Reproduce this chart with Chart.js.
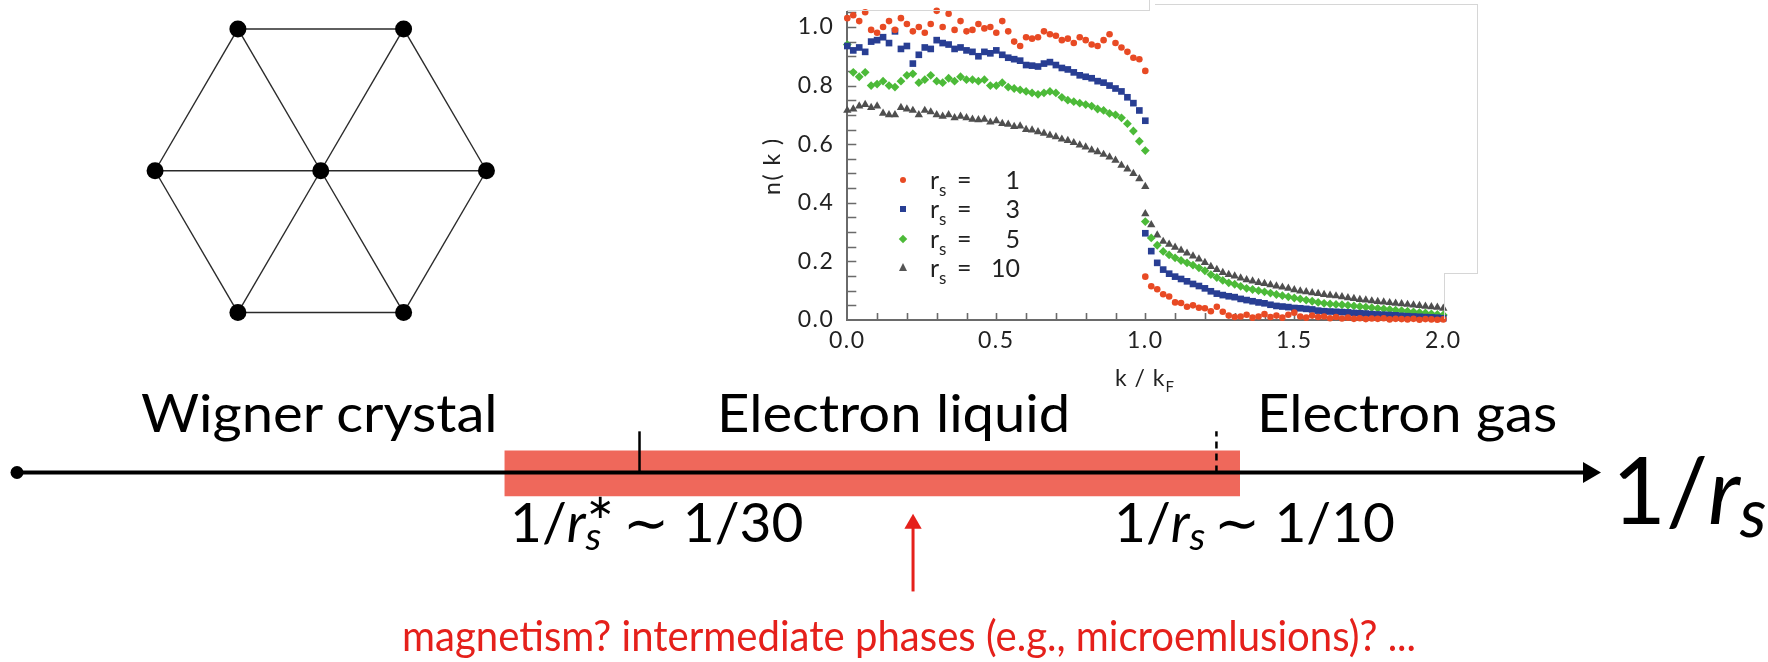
<!DOCTYPE html>
<html>
<head>
<meta charset="utf-8">
<script src="https://cdn.jsdelivr.net/npm/chart.js"></script>
<style>
  body { margin: 0; background: #fff; }
  #page { position: relative; width: 1768px; height: 662px; overflow: hidden; background: #fff; font-family: Lato, "Open Sans", sans-serif; }
  canvas { position: absolute; }
  .txt { position: absolute; white-space: nowrap; line-height: 1; color: #000; transform-origin: 0 0; }
  .wide { transform: scaleX(1.08); }
  .frame { position: absolute; background: #d6d6d6; }
  .leg { position: absolute; font-size: 25px; line-height: 1; color: #222; white-space: nowrap; }
  .leg sub { font-size: 17px; vertical-align: -7px; }
  .sx { position: relative; display: inline-block; width: 0.42em; height: 0.8em; }
  .sx.nosup { width: 0.45em; }
  .sp { position: absolute; left: 0.02em; top: -0.28em; font-size: 0.62em; }
  .sb { position: absolute; left: 0; top: 0.42em; font-size: 0.72em; font-style: italic; }
</style>
</head>
<body>
<div id="page">
  <canvas id="lattice" width="442" height="342" style="left:100px; top:0px; width:442px; height:342px"></canvas>
  <canvas id="nk" width="740" height="400" style="left:740px; top:0px; width:740px; height:400px"></canvas>
  <canvas id="phase" width="1768" height="282" style="left:0px; top:380px; width:1768px; height:282px"></canvas>

  <!-- edges of the pasted plot image -->
  <div class="frame" style="left:847px; top:10px; width:302px; height:1px"></div>
  <div class="frame" style="left:1149px; top:0px; width:1px; height:11px"></div>
  <div class="frame" style="left:1155px; top:4px; width:322px; height:1px"></div>
  <div class="frame" style="left:1477px; top:4px; width:1px; height:269px"></div>
  <div class="frame" style="left:1444px; top:273px; width:34px; height:1px"></div>
  <div class="frame" style="left:1444px; top:273px; width:1px; height:46px"></div>

  <div class="txt" style="left:1080px; top:366px; width:130px; text-align:center; font-size:23px; letter-spacing:1px; color:#222">k / k<sub style="font-size:15px">F</sub></div>

  <div class="leg" style="left:930px; top:167px">r<sub>s</sub></div>
  <div class="leg" style="left:957px; top:167px">=</div>
  <div class="leg" style="left:980px; top:167px; width:40px; text-align:right">1</div>
  <div class="leg" style="left:930px; top:196px">r<sub>s</sub></div>
  <div class="leg" style="left:957px; top:196px">=</div>
  <div class="leg" style="left:980px; top:196px; width:40px; text-align:right">3</div>
  <div class="leg" style="left:930px; top:226px">r<sub>s</sub></div>
  <div class="leg" style="left:957px; top:226px">=</div>
  <div class="leg" style="left:980px; top:226px; width:40px; text-align:right">5</div>
  <div class="leg" style="left:930px; top:255px">r<sub>s</sub></div>
  <div class="leg" style="left:957px; top:255px">=</div>
  <div class="leg" style="left:980px; top:255px; width:40px; text-align:right">10</div>
  <div style="position:absolute; left:900px; top:177px; width:6px; height:6px; border-radius:50%; background:#e84a24"></div>
  <div style="position:absolute; left:900px; top:206px; width:6px; height:6px; background:#283e93"></div>
  <div style="position:absolute; left:900px; top:236px; width:6px; height:6px; background:#4cba38; transform:rotate(45deg)"></div>
  <div style="position:absolute; left:899px; top:263px; width:0; height:0; border-left:4px solid transparent; border-right:4px solid transparent; border-bottom:8px solid #555"></div>

  <div class="txt wide" style="left:141px; top:386px; font-size:52px">Wigner crystal</div>
  <div class="txt wide" style="left:717px; top:386px; font-size:52px">Electron liquid</div>
  <div class="txt wide" style="left:1257px; top:386px; font-size:52px">Electron gas</div>

  <div class="txt" style="left:510px; top:494px; font-size:55px">1/<i>r</i><span class="sx"><span class="sp">∗</span><span class="sb">s</span></span> ∼ 1/30</div>
  <div class="txt" style="left:1114px; top:494px; font-size:55px">1/<i>r</i><span class="sx nosup"><span class="sb">s</span></span>∼ 1/10</div>
  <div class="txt" style="left:1612px; top:442px; font-size:93px">1/<i>r</i><span class="sx"><span class="sb">s</span></span></div>

  <div class="txt" style="left:402px; top:614px; font-size:42px; transform:scaleX(0.955); color:#e5201b">magnetism? intermediate phases (e.g., microemlusions)? ...</div>
</div>

<script>
  // n(k) momentum distribution, k in units of k_F
  var kBelow = [0.00, 0.02, 0.04, 0.06, 0.08, 0.10, 0.12, 0.14, 0.16, 0.18, 0.20, 0.22, 0.24, 0.26, 0.28, 0.30, 0.32, 0.34, 0.36, 0.38, 0.40, 0.42, 0.44, 0.46, 0.48, 0.50, 0.52, 0.54, 0.56, 0.58, 0.60, 0.62, 0.64, 0.66, 0.68, 0.70, 0.72, 0.74, 0.76, 0.78, 0.80, 0.82, 0.84, 0.86, 0.88, 0.90, 0.92, 0.94, 0.96, 0.98, 1.00];
  var kAbove = [1.00, 1.02, 1.04, 1.06, 1.08, 1.10, 1.12, 1.14, 1.16, 1.18, 1.20, 1.22, 1.24, 1.26, 1.28, 1.30, 1.32, 1.34, 1.36, 1.38, 1.40, 1.42, 1.44, 1.46, 1.48, 1.50, 1.52, 1.54, 1.56, 1.58, 1.60, 1.62, 1.64, 1.66, 1.68, 1.70, 1.72, 1.74, 1.76, 1.78, 1.80, 1.82, 1.84, 1.86, 1.88, 1.90, 1.92, 1.94, 1.96, 1.98, 2.00];

  var rs1Below = [1.03, 1.04, 1.02, 1.05, 0.99, 0.98, 1.00, 1.02, 0.99, 1.03, 1.01, 0.985, 1.00, 0.98, 1.01, 1.055, 1.00, 1.045, 0.99, 1.02, 0.985, 0.99, 1.01, 0.995, 1.00, 0.98, 1.02, 0.985, 0.95, 0.935, 0.965, 0.96, 0.965, 0.985, 0.975, 0.97, 0.955, 0.96, 0.945, 0.965, 0.955, 0.94, 0.935, 0.955, 0.975, 0.945, 0.93, 0.915, 0.895, 0.89, 0.85];
  var rs1Above = [0.148, 0.115, 0.105, 0.088, 0.080, 0.060, 0.058, 0.045, 0.050, 0.042, 0.040, 0.030, 0.045, 0.028, 0.015, 0.010, 0.012, 0.018, 0.008, 0.012, 0.020, 0.010, 0.015, 0.008, 0.018, 0.025, 0.012, 0.008, 0.015, 0.010, 0.012, 0.006, 0.010, 0.005, 0.008, 0.004, 0.006, 0.003, 0.005, 0.004, 0.006, 0.002, 0.004, 0.003, 0.002, 0.004, 0.001, 0.003, 0.002, 0.001, 0.002];

  var rs3Below = [0.935, 0.92, 0.93, 0.915, 0.95, 0.955, 0.965, 0.945, 0.985, 0.925, 0.935, 0.875, 0.905, 0.93, 0.925, 0.955, 0.945, 0.94, 0.925, 0.93, 0.92, 0.915, 0.90, 0.915, 0.91, 0.92, 0.905, 0.895, 0.89, 0.885, 0.87, 0.868, 0.865, 0.875, 0.88, 0.87, 0.86, 0.855, 0.845, 0.835, 0.83, 0.825, 0.815, 0.81, 0.80, 0.79, 0.78, 0.76, 0.74, 0.715, 0.68];
  var rs3Above = [0.296, 0.235, 0.195, 0.172, 0.158, 0.148, 0.140, 0.132, 0.123, 0.116, 0.108, 0.098, 0.090, 0.085, 0.081, 0.078, 0.072, 0.068, 0.064, 0.060, 0.057, 0.052, 0.048, 0.046, 0.044, 0.041, 0.040, 0.038, 0.036, 0.032, 0.030, 0.029, 0.028, 0.027, 0.026, 0.024, 0.023, 0.022, 0.020, 0.019, 0.018, 0.017, 0.016, 0.014, 0.013, 0.012, 0.011, 0.010, 0.009, 0.008, 0.006];

  var rs5Below = [0.94, 0.845, 0.83, 0.845, 0.80, 0.805, 0.815, 0.80, 0.795, 0.815, 0.835, 0.84, 0.81, 0.82, 0.835, 0.815, 0.81, 0.825, 0.815, 0.83, 0.82, 0.82, 0.815, 0.82, 0.80, 0.80, 0.81, 0.795, 0.79, 0.785, 0.78, 0.775, 0.77, 0.775, 0.78, 0.775, 0.76, 0.75, 0.745, 0.74, 0.735, 0.73, 0.72, 0.715, 0.705, 0.70, 0.69, 0.67, 0.645, 0.61, 0.578];
  var rs5Above = [0.336, 0.28, 0.255, 0.234, 0.222, 0.212, 0.203, 0.195, 0.187, 0.178, 0.168, 0.155, 0.145, 0.135, 0.127, 0.122, 0.115, 0.108, 0.104, 0.100, 0.096, 0.092, 0.087, 0.083, 0.079, 0.075, 0.072, 0.068, 0.064, 0.060, 0.057, 0.055, 0.053, 0.052, 0.050, 0.048, 0.046, 0.044, 0.042, 0.040, 0.038, 0.036, 0.034, 0.032, 0.030, 0.028, 0.026, 0.024, 0.021, 0.019, 0.017];

  var rs10Below = [0.715, 0.72, 0.73, 0.735, 0.725, 0.73, 0.705, 0.70, 0.70, 0.725, 0.72, 0.715, 0.70, 0.715, 0.71, 0.70, 0.695, 0.70, 0.69, 0.695, 0.69, 0.685, 0.683, 0.685, 0.675, 0.68, 0.67, 0.668, 0.66, 0.662, 0.65, 0.648, 0.642, 0.637, 0.63, 0.625, 0.617, 0.612, 0.605, 0.597, 0.59, 0.58, 0.574, 0.565, 0.556, 0.545, 0.528, 0.515, 0.50, 0.482, 0.455];
  var rs10Above = [0.362, 0.325, 0.29, 0.268, 0.258, 0.248, 0.238, 0.228, 0.218, 0.208, 0.196, 0.182, 0.172, 0.162, 0.155, 0.150, 0.143, 0.137, 0.133, 0.128, 0.124, 0.120, 0.116, 0.112, 0.108, 0.103, 0.099, 0.096, 0.093, 0.090, 0.087, 0.084, 0.082, 0.079, 0.076, 0.073, 0.070, 0.068, 0.065, 0.063, 0.061, 0.059, 0.057, 0.055, 0.053, 0.051, 0.049, 0.047, 0.045, 0.043, 0.040];

  var xTickValues = [0, 0.5, 1.0, 1.5, 2.0];
  var yTickValues = [0, 0.2, 0.4, 0.6, 0.8, 1.0];

  // triangular lattice (Wigner crystal), side = 1
  var latticeX = [-0.5, 0.5, -1, 0, 1, -0.5, 0.5];
  var latticeY = [0.866, 0.866, 0, 0, 0, -0.866, -0.866];
  var bonds = [[0, 1], [1, 4], [4, 6], [6, 5], [5, 2], [2, 0], [3, 0], [3, 1], [3, 2], [3, 4], [3, 5], [3, 6]];

  // schematic 1/r_s axis (arbitrary units)
  var axisStart = 0, axisEnd = 100;
  var liquidBand = [31.0, 77.8];
  var rsStarMark = 39.6;
  var rsTenMark = 76.3;
  var questionMark = 57.0;

  function pairs(ks, ns) {
    return ks.map(function (k, i) { return { x: k, y: ns[i] }; });
  }

  // ---------- lattice ----------
  var latticeSets = [{
    data: latticeX.map(function (x, i) { return { x: x, y: latticeY[i] }; }),
    pointRadius: 8.5, pointBackgroundColor: '#000', pointBorderWidth: 0, showLine: false, clip: false
  }];
  bonds.forEach(function (b) {
    latticeSets.push({
      data: [{ x: latticeX[b[0]], y: latticeY[b[0]] }, { x: latticeX[b[1]], y: latticeY[b[1]] }],
      showLine: true, borderColor: '#2a2a2a', borderWidth: 1.4, pointRadius: 0
    });
  });
  new Chart(document.getElementById('lattice'), {
    type: 'scatter',
    data: { datasets: latticeSets },
    options: {
      responsive: false, animation: false,
      layout: { padding: 0 },
      plugins: { legend: { display: false }, tooltip: { enabled: false } },
      scales: {
        x: { display: false, min: -1.281, max: 1.284 },
        y: { display: false, min: -0.994, max: 0.991 }
      }
    }
  });

  // ---------- n(k) ----------
  var innerTicks = {
    id: 'innerTicks',
    beforeDraw: function (chart) { chart.ctx.letterSpacing = '1.5px'; },
    beforeDatasetsDraw: function (chart) {
      var ctx = chart.ctx, x = chart.scales.x, y = chart.scales.y;
      ctx.save();
      ctx.strokeStyle = '#6a6a6a';
      ctx.lineWidth = 1.6;
      ctx.beginPath();
      for (var i = 1; i <= 20; i++) {
        var px = Math.round(x.getPixelForValue(i * 0.1)) + 0.5;
        ctx.moveTo(px, y.bottom); ctx.lineTo(px, y.bottom - 7);
      }
      for (var j = 1; j <= 21; j++) {
        var py = Math.round(y.getPixelForValue(j * 0.05)) + 0.5;
        ctx.moveTo(x.left, py); ctx.lineTo(x.left + 9, py);
      }
      ctx.stroke();
      ctx.restore();
    }
  };

  var tickFont = { family: 'Lato', size: 23 };
  new Chart(document.getElementById('nk'), {
    type: 'scatter',
    data: {
      datasets: [
        { label: 'rs = 1', data: pairs(kBelow, rs1Below).concat(pairs(kAbove, rs1Above)),
          pointStyle: 'circle', pointRadius: 3.3, backgroundColor: '#e84a24', borderWidth: 0, clip: false },
        { label: 'rs = 3', data: pairs(kBelow, rs3Below).concat(pairs(kAbove, rs3Above)),
          pointStyle: 'rect', pointRadius: 4.7, backgroundColor: '#283e93', borderWidth: 0, clip: false },
        { label: 'rs = 5', data: pairs(kBelow, rs5Below).concat(pairs(kAbove, rs5Above)),
          pointStyle: 'rectRot', pointRadius: 4.4, backgroundColor: '#4cba38', borderWidth: 0, clip: false },
        { label: 'rs = 10', data: pairs(kBelow, rs10Below).concat(pairs(kAbove, rs10Above)),
          pointStyle: 'triangle', pointRadius: 4.8, backgroundColor: '#4f4f4f', borderWidth: 0, clip: false }
      ]
    },
    options: {
      responsive: false, animation: false,
      layout: { padding: { left: 0, top: 12.3, right: 36.7, bottom: 0 } },
      plugins: { legend: { display: false }, tooltip: { enabled: false } },
      scales: {
        x: {
          type: 'linear', min: 0, max: 2,
          afterBuildTicks: function (s) { s.ticks = xTickValues.map(function (v) { return { value: v }; }); },
          afterFit: function (s) { s.height = 80; s.paddingLeft = 0; s.paddingRight = 0; },
          ticks: { font: tickFont, color: '#222', padding: 7, maxRotation: 0, autoSkip: false,
                   callback: function (v) { return Number(v).toFixed(1); } },
          grid: { display: false, drawTicks: false },
          border: { display: true, color: '#6a6a6a', width: 2 }
        },
        y: {
          type: 'linear', min: 0, max: 1.05,
          afterBuildTicks: function (s) { s.ticks = yTickValues.map(function (v) { return { value: v }; }); },
          afterFit: function (s) { s.width = 107.3; s.paddingTop = 0; s.paddingBottom = 0; },
          ticks: { font: tickFont, color: '#222', padding: 13, autoSkip: false,
                   callback: function (v) { return Number(v).toFixed(1); } },
          title: { display: true, text: 'n( k )', font: tickFont, color: '#222', padding: { top: 19 } },
          grid: { display: false, drawTicks: false },
          border: { display: true, color: '#6a6a6a', width: 2 }
        }
      }
    },
    plugins: [innerTicks]
  });

  // ---------- phase diagram ----------
  new Chart(document.getElementById('phase'), {
    type: 'scatter',
    data: {
      datasets: [
        { data: [{ x: axisStart, y: 0 }], pointStyle: 'circle', pointRadius: 6.5, backgroundColor: '#000', borderWidth: 0, clip: false },
        { data: [{ x: axisEnd, y: 0 }], pointStyle: 'triangle', pointRotation: 90, pointRadius: 12, backgroundColor: '#000', borderWidth: 0, clip: false },
        { data: [{ x: axisStart, y: 0 }, { x: axisEnd, y: 0 }], showLine: true, borderColor: '#000', borderWidth: 4, pointRadius: 0, clip: false },
        { data: [{ x: rsStarMark, y: 0 }, { x: rsStarMark, y: 45 }], showLine: true, borderColor: '#000', borderWidth: 2.5, pointRadius: 0 },
        { data: [{ x: rsTenMark, y: 0 }, { x: rsTenMark, y: 45 }], showLine: true, borderColor: '#000', borderWidth: 2.5, borderDash: [7, 5], pointRadius: 0 },
        { data: [{ x: questionMark, y: -56 }], pointStyle: 'triangle', pointRadius: 10, backgroundColor: '#e5201b', borderWidth: 0 },
        { data: [{ x: questionMark, y: -130 }, { x: questionMark, y: -56 }], showLine: true, borderColor: '#e5201b', borderWidth: 3, pointRadius: 0 },
        { data: [{ x: liquidBand[0], y: 24 }, { x: liquidBand[1], y: 24 }], showLine: true, borderWidth: 0,
          fill: { value: -26 }, backgroundColor: '#ef685b', pointRadius: 0 }
      ]
    },
    options: {
      responsive: false, animation: false,
      layout: { padding: { left: 17, right: 179, top: 0, bottom: 0 } },
      plugins: { legend: { display: false }, tooltip: { enabled: false }, filler: { propagate: false } },
      scales: {
        x: { display: false, min: axisStart, max: axisEnd },
        y: { display: false, min: -194, max: 88 }
      }
    }
  });
</script>
</body>
</html>
